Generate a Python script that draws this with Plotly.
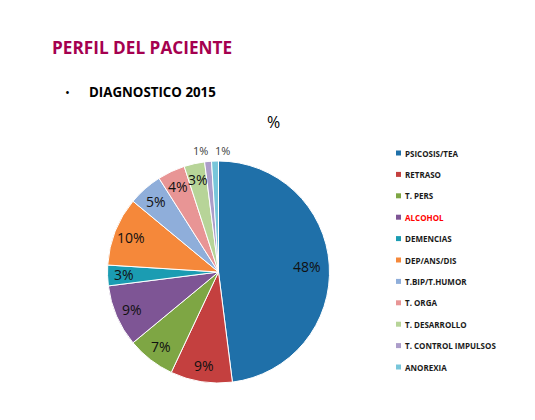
import numpy as np
import plotly.graph_objects as go

labels = ["PSICOSIS/TEA", "RETRASO", "T. PERS", "ALCOHOL", "DEMENCIAS", "DEP/ANS/DIS",
          "T.BIP/T.HUMOR", "T. ORGA", "T. DESARROLLO", "T. CONTROL IMPULSOS", "ANOREXIA"]
values = [48, 9, 7, 9, 3, 10, 5, 4, 3, 1, 1]
colors = ["#1F70A9", "#C4403F", "#7EA644", "#7E5595", "#1B9CB2", "#F5883A",
          "#8FAEDA", "#E89595", "#B7D498", "#AC9DCA", "#78C6DA"]
legend_colors = ["#1a1a1a"] * 3 + ["#FF0000"] + ["#1a1a1a"] * 7
label_inside = [True] * 9 + [False] * 2

W, H = 535, 420
cx, cy, r = 218.5, 272, 111

fig = go.Figure()
fig.add_trace(go.Pie(
    labels=labels, values=values, sort=False, direction="clockwise", rotation=0,
    marker=dict(colors=colors, line=dict(color="white", width=1)),
    textinfo="none",
    domain=dict(x=[(cx - r) / W, (cx + r) / W], y=[1 - (cy + r) / H, 1 - (cy - r) / H]),
    showlegend=False, hoverinfo="label+percent",
))

annotations = [
    dict(text="<b>PERFIL DEL PACIENTE</b>", x=50 / W, y=1 - 47 / H, xref="paper", yref="paper",
         xanchor="left", yanchor="middle", showarrow=False,
         font=dict(size=17.2, color="#A5004F", family="Open Sans")),
    dict(text="•", x=63 / W, y=1 - 92 / H, xref="paper", yref="paper",
         xanchor="left", yanchor="middle", showarrow=False,
         font=dict(size=13, color="#000000", family="Open Sans")),
    dict(text="<b>DIAGNOSTICO 2015</b>", x=87 / W, y=1 - 92 / H, xref="paper", yref="paper",
         xanchor="left", yanchor="middle", showarrow=False,
         font=dict(size=13.3, color="#000000", family="Open Sans")),
    dict(text="%", x=273 / W, y=1 - 122 / H, xref="paper", yref="paper",
         xanchor="center", yanchor="middle", showarrow=False,
         font=dict(size=16, color="#000000", family="Open Sans")),
]

# percentage labels placed at each slice's mid angle (derived from the values)
vals = np.array(values, dtype=float)
total = vals.sum()
mid = (np.cumsum(vals) - vals / 2) / total * 2 * np.pi  # clockwise from 12 o'clock
for i, (v, a, inside) in enumerate(zip(values, mid, label_inside)):
    pct = f"{round(v / total * 100)}%"
    if inside:
        rr = (0.80 if v / total > 0.3 else 0.85) * r
        px, py = cx + rr * np.sin(a), cy - rr * np.cos(a)
        annotations.append(dict(text=pct, x=px / W, y=1 - py / H, xref="paper", yref="paper",
                                xanchor="center", yanchor="middle", showarrow=False,
                                font=dict(size=14, color="#111111", family="Open Sans")))
    else:
        rr = r + 1
        px, py = cx + rr * np.sin(a), cy - rr * np.cos(a)
        left_side = np.sin(a) < -0.05
        annotations.append(dict(text=pct, x=px / W, y=1 - py / H, xref="paper", yref="paper",
                                xanchor="right" if left_side else "left", yanchor="bottom",
                                xshift=2 if left_side else -2, showarrow=False,
                                font=dict(size=11, color="#404040", family="Open Sans")))

shapes = []
ly0, ldy = 153, 21.4
for i, (lab, col, tc) in enumerate(zip(labels, colors, legend_colors)):
    y = ly0 + i * ldy
    shapes.append(dict(type="rect", xref="paper", yref="paper",
                       x0=396 / W, x1=401 / W, y0=1 - (y + 2.5) / H, y1=1 - (y - 2.5) / H,
                       fillcolor=col, line=dict(width=0)))
    annotations.append(dict(text=f"<b>{lab}</b>", x=402.5 / W, y=1 - y / H, xref="paper", yref="paper",
                            xanchor="left", yanchor="middle", showarrow=False,
                            font=dict(size=8, color=tc, family="Open Sans")))

fig.update_layout(
    width=W, height=H, margin=dict(l=0, r=0, t=0, b=0),
    paper_bgcolor="white", plot_bgcolor="white",
    annotations=annotations, shapes=shapes,
)
fig.write_html("out.html", config={"displayModeBar": False},
               post_script="document.body.style.margin='0';")
